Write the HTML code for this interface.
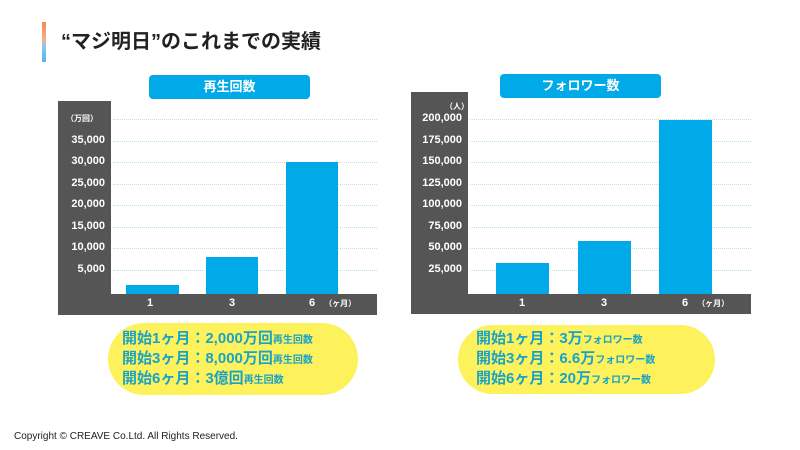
<!DOCTYPE html>
<html><head><meta charset="utf-8"><style>
*{margin:0;padding:0;box-sizing:border-box}
body{width:800px;height:450px;background:#fff;position:relative;overflow:hidden;font-family:"Liberation Sans","Noto Sans CJK JP",sans-serif}
.a{position:absolute}
.dark{background:#555555}
.bar{background:#00a9e8;position:absolute}
.pill{position:absolute;background:#00a9e8;color:#fff;border-radius:4px;font-weight:bold;font-size:13px;text-align:center;line-height:24px}
.yl{position:absolute;color:#fff;font-weight:bold;font-size:11px;text-align:right}
.grid{position:absolute;border-top:1px dotted #b8e2ee;height:0}
.xl{position:absolute;color:#fff;font-weight:bold;font-size:11px;top:297px}
.yb{position:absolute;background:#fdf25c;border-radius:36px;color:#1aa3c6;font-weight:bold;font-size:15px;padding:6px 0 0 14px}
.yb div{height:20px;line-height:20px;white-space:nowrap}
.yb small{font-size:10px;line-height:1}
</style></head><body>
<div class="a" style="left:42px;top:22px;width:4px;height:40px;background:linear-gradient(#f08a50,#f4b090 45%,#8cc8ee 60%,#5bb4ea)"></div>
<div class="a" style="left:61px;top:25px;font-size:20px;font-weight:bold;color:#222">“マジ明日”のこれまでの実績</div>

<div class="a dark" style="left:58px;top:101px;width:53px;height:214px"></div>
<div class="a dark" style="left:58px;top:294px;width:319px;height:21px"></div>
<div class="pill" style="left:149px;top:75px;width:161px;height:24px">再生回数</div>
<div class="a" style="left:66px;top:113px;color:#fff;font-size:8px;font-weight:bold">（万回）</div>
<div class="grid" style="left:113px;width:264px;top:119px"></div>
<div class="grid" style="left:113px;width:264px;top:141px"></div>
<div class="grid" style="left:113px;width:264px;top:162px"></div>
<div class="grid" style="left:113px;width:264px;top:184px"></div>
<div class="grid" style="left:113px;width:264px;top:205px"></div>
<div class="grid" style="left:113px;width:264px;top:227px"></div>
<div class="grid" style="left:113px;width:264px;top:248px"></div>
<div class="grid" style="left:113px;width:264px;top:270px"></div>
<div class="yl" style="left:58px;width:47px;top:134px">35,000</div>
<div class="yl" style="left:58px;width:47px;top:155px">30,000</div>
<div class="yl" style="left:58px;width:47px;top:177px">25,000</div>
<div class="yl" style="left:58px;width:47px;top:198px">20,000</div>
<div class="yl" style="left:58px;width:47px;top:220px">15,000</div>
<div class="yl" style="left:58px;width:47px;top:241px">10,000</div>
<div class="yl" style="left:58px;width:47px;top:263px">5,000</div>
<div class="bar" style="left:126px;top:285px;width:53px;height:9px"></div>
<div class="bar" style="left:206px;top:257px;width:52px;height:37px"></div>
<div class="bar" style="left:286px;top:162px;width:52px;height:132px"></div>
<div class="xl" style="left:147px">1</div>
<div class="xl" style="left:229px">3</div>
<div class="xl" style="left:309px">6 <span style="font-size:8px;margin-left:6px">（ヶ月）</span></div>
<div class="yb" style="left:108px;top:323px;width:250px;height:72px"><div>開始1ヶ月：2,000万回<small>再生回数</small></div><div>開始3ヶ月：8,000万回<small>再生回数</small></div><div>開始6ヶ月：3億回<small>再生回数</small></div></div>

<div class="a dark" style="left:411px;top:92px;width:57px;height:222px"></div>
<div class="a dark" style="left:411px;top:294px;width:340px;height:20px"></div>
<div class="pill" style="left:500px;top:74px;width:161px;height:24px">フォロワー数</div>
<div class="a" style="left:445px;top:101px;color:#fff;font-size:8px;font-weight:bold">（人）</div>
<div class="grid" style="left:470px;width:281px;top:119px"></div>
<div class="grid" style="left:470px;width:281px;top:141px"></div>
<div class="grid" style="left:470px;width:281px;top:162px"></div>
<div class="grid" style="left:470px;width:281px;top:184px"></div>
<div class="grid" style="left:470px;width:281px;top:205px"></div>
<div class="grid" style="left:470px;width:281px;top:227px"></div>
<div class="grid" style="left:470px;width:281px;top:248px"></div>
<div class="grid" style="left:470px;width:281px;top:270px"></div>
<div class="yl" style="left:411px;width:51px;top:112px">200,000</div>
<div class="yl" style="left:411px;width:51px;top:134px">175,000</div>
<div class="yl" style="left:411px;width:51px;top:155px">150,000</div>
<div class="yl" style="left:411px;width:51px;top:177px">125,000</div>
<div class="yl" style="left:411px;width:51px;top:198px">100,000</div>
<div class="yl" style="left:411px;width:51px;top:220px">75,000</div>
<div class="yl" style="left:411px;width:51px;top:241px">50,000</div>
<div class="yl" style="left:411px;width:51px;top:263px">25,000</div>
<div class="bar" style="left:496px;top:263px;width:53px;height:31px"></div>
<div class="bar" style="left:578px;top:241px;width:53px;height:53px"></div>
<div class="bar" style="left:659px;top:120px;width:53px;height:174px"></div>
<div class="xl" style="left:519px">1</div>
<div class="xl" style="left:601px">3</div>
<div class="xl" style="left:682px">6 <span style="font-size:8px;margin-left:6px">（ヶ月）</span></div>
<div class="yb" style="left:458px;top:325px;width:257px;height:69px;padding-left:18px;padding-top:4px"><div>開始1ヶ月：3万<small>フォロワー数</small></div><div>開始3ヶ月：6.6万<small>フォロワー数</small></div><div>開始6ヶ月：20万<small>フォロワー数</small></div></div>

<div class="a" style="left:14px;top:431px;font-size:10px;color:#222">Copyright © CREAVE Co.Ltd. All Rights Reserved.</div>
</body></html>
